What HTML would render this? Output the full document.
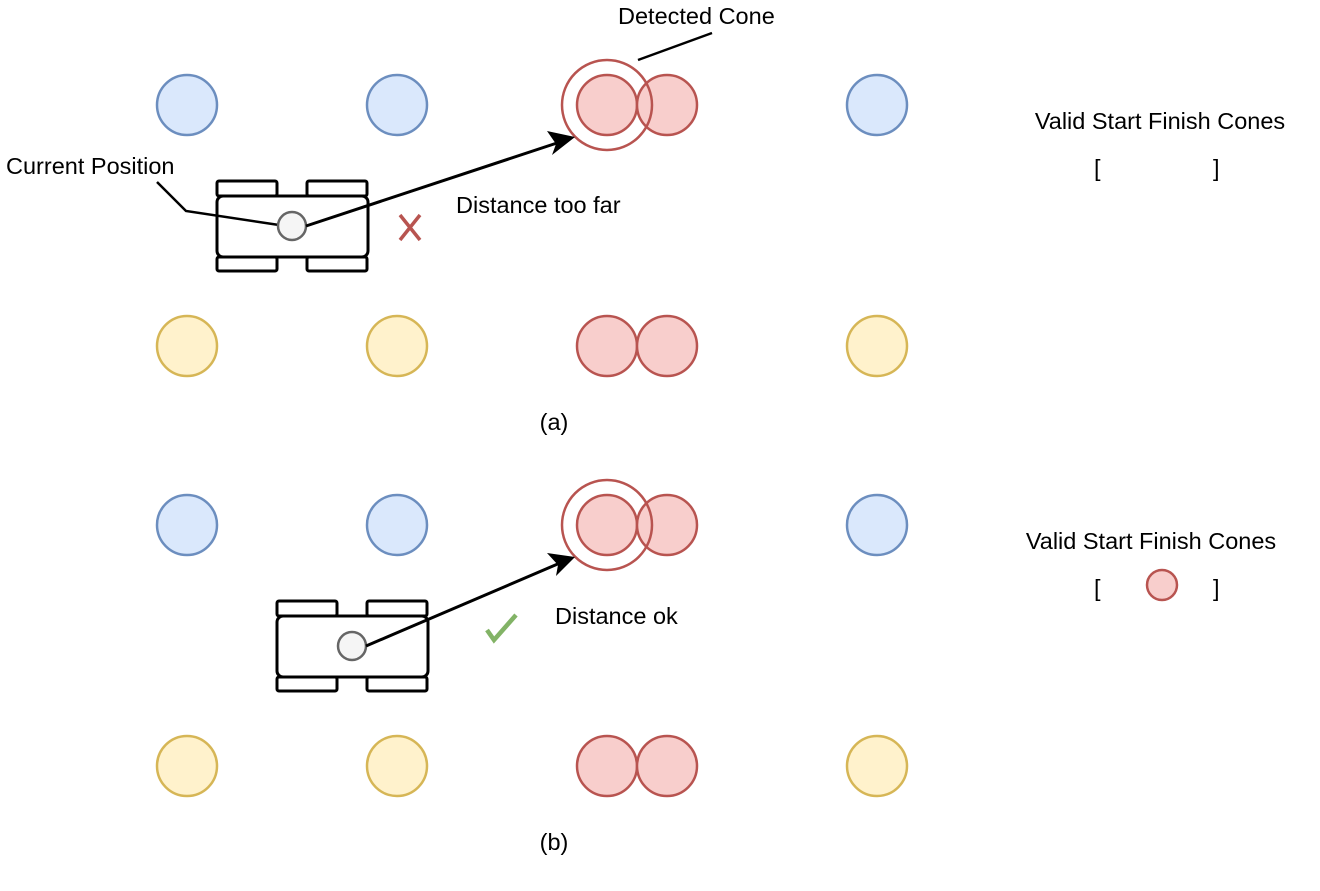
<!DOCTYPE html>
<html><head><style>body{margin:0;background:#fff}svg{display:block}text{font-family:"Liberation Sans",Arial,sans-serif;font-size:23.5px;fill:#000}</style></head><body>
<svg width="1320" height="891" viewBox="0 0 1320 891">
<defs>
<g id="row">
<circle cx="187" cy="0" r="30" fill="#dae8fc" stroke="#6c8ebf" stroke-width="2.5"/>
<circle cx="397" cy="0" r="30" fill="#dae8fc" stroke="#6c8ebf" stroke-width="2.5"/>
<circle cx="607" cy="0" r="30" fill="#f8cecc" stroke="#b85450" stroke-width="2.5"/>
<circle cx="667" cy="0" r="30" fill="#f8cecc" stroke="#b85450" stroke-width="2.5"/>
<circle cx="607" cy="0" r="45" fill="none" stroke="#b85450" stroke-width="2.5"/>
<circle cx="877" cy="0" r="30" fill="#dae8fc" stroke="#6c8ebf" stroke-width="2.5"/>
</g>
<g id="rowy">
<circle cx="187" cy="0" r="30" fill="#fff2cc" stroke="#d6b656" stroke-width="2.5"/>
<circle cx="397" cy="0" r="30" fill="#fff2cc" stroke="#d6b656" stroke-width="2.5"/>
<circle cx="607" cy="0" r="30" fill="#f8cecc" stroke="#b85450" stroke-width="2.5"/>
<circle cx="667" cy="0" r="30" fill="#f8cecc" stroke="#b85450" stroke-width="2.5"/>
<circle cx="877" cy="0" r="30" fill="#fff2cc" stroke="#d6b656" stroke-width="2.5"/>
</g>
<g id="car" fill="#fff" stroke="#000" stroke-width="3">
<rect x="0" y="-15" width="60" height="15" rx="2"/>
<rect x="90" y="-15" width="60" height="15" rx="2"/>
<rect x="0" y="61" width="60" height="14" rx="2"/>
<rect x="90" y="61" width="60" height="14" rx="2"/>
<rect x="0" y="0" width="151" height="61" rx="6"/>
</g>
</defs>
<use href="#row" y="105"/>
<use href="#rowy" y="346"/>
<use href="#row" y="525"/>
<use href="#rowy" y="766"/>
<use href="#car" x="217" y="196"/>
<use href="#car" x="277" y="616"/>
<polyline points="157,182 186,211 279,225" fill="none" stroke="#000" stroke-width="2.5"/>
<circle cx="292" cy="226" r="14" fill="#f5f5f5" stroke="#666" stroke-width="2.5"/>
<circle cx="352" cy="646" r="14" fill="#f5f5f5" stroke="#666" stroke-width="2.5"/>
<line x1="306" y1="226" x2="560" y2="142" stroke="#000" stroke-width="3"/>
<polygon points="575,137 552,155 556,144 547,131" fill="#000"/>
<line x1="366" y1="646" x2="560" y2="563" stroke="#000" stroke-width="3"/>
<polygon points="575,557 556,576 558,565 547,553" fill="#000"/>
<line x1="638" y1="60" x2="712" y2="33" stroke="#000" stroke-width="2.5"/>
<text x="618" y="24">Detected Cone</text>
<text x="6" y="174">Current Position</text>
<text x="456" y="213">Distance too far</text>
<text x="555" y="624">Distance ok</text>
<path d="M400,215 L420,240 M420,215 L400,240" stroke="#b85450" stroke-width="3.5" fill="none"/>
<path d="M487,630 L494,640 L516,615" stroke="#82b366" stroke-width="4.5" fill="none"/>
<text x="1160" y="129" text-anchor="middle">Valid Start Finish Cones</text>
<text x="1094" y="176">[</text><text x="1213" y="176">]</text>
<text x="1151" y="549" text-anchor="middle">Valid Start Finish Cones</text>
<text x="1094" y="596">[</text><text x="1213" y="596">]</text>
<circle cx="1162" cy="585" r="15" fill="#f8cecc" stroke="#b85450" stroke-width="2.5"/>
<text x="554" y="430" text-anchor="middle">(a)</text>
<text x="554" y="850" text-anchor="middle">(b)</text>
</svg>
</body></html>
